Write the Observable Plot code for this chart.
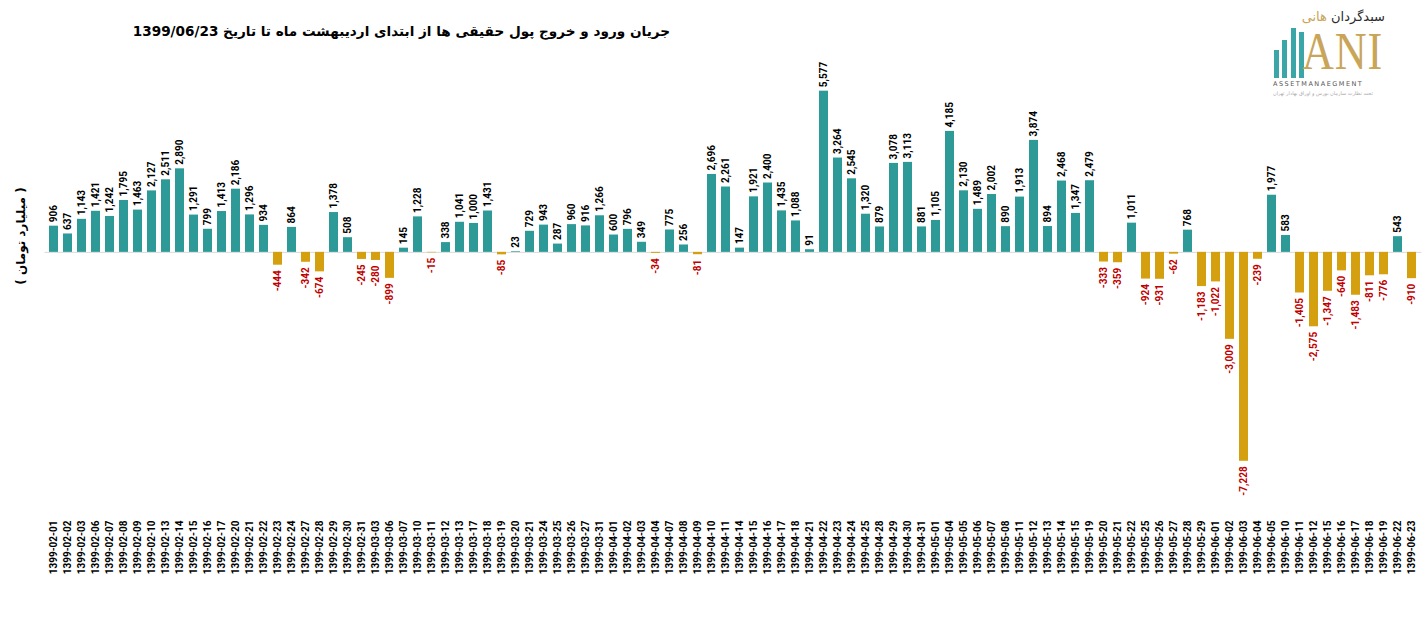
<!DOCTYPE html>
<html>
<head>
<meta charset="utf-8">
<script src="https://cdn.jsdelivr.net/npm/d3@7"></script>
<script src="https://cdn.jsdelivr.net/npm/@observablehq/plot@0.6"></script>
<style>
  html, body { margin: 0; padding: 0; background: #fff; }
  #wrap { position: relative; width: 1425px; height: 619px; overflow: hidden; font-family: Roboto, "Open Sans", sans-serif; }
  #chart { position: absolute; left: 0; top: 0; }
  #title { position: absolute; right: 755px; top: 23px; direction: rtl; white-space: nowrap;
           font-family: "DejaVu Sans", "Noto Sans", sans-serif; font-weight: bold; font-size: 13.6px; color: #000; }
  #ylabel { position: absolute; left: 21px; top: 236px; transform: translate(-50%, -50%) rotate(-90deg);
            direction: rtl; white-space: nowrap; font-family: "DejaVu Sans", sans-serif; font-weight: bold; font-size: 12px; }
  #logo { position: absolute; left: 1268px; top: 8px; width: 125px; height: 96px; }
  .lb { position: absolute; background: #3aa6a8; top: auto; width: 5px; }
  #ani { position: absolute; left: 34px; top: 22px; font-family: "Liberation Serif", "DejaVu Serif", serif; font-size: 52px; line-height: 44px;
         color: #c9a55a; letter-spacing: 1px; transform: scaleX(0.85); transform-origin: left top; }
  #lfa { position: absolute; right: 8px; top: 1px; font-family: "DejaVu Sans", sans-serif; font-size: 13px; line-height: 15px; color: #2b2b2b; direction: rtl; white-space: nowrap; }
  #lfa span { color: #c9a55a; }
  #asset { position: absolute; left: 5px; top: 73px; font-family: "DejaVu Sans", sans-serif; font-size: 6.5px; line-height: 7px; color: #555; letter-spacing: 1.5px; white-space: nowrap; }
  #lsub { position: absolute; left: 5px; top: 82px; font-family: "DejaVu Sans", sans-serif; font-size: 5px; line-height: 6px; color: #aaa; direction: rtl; white-space: nowrap; }
</style>
</head>
<body>
<div id="wrap">
  <div id="chart"></div>
  <div id="title">جریان ورود و خروج پول حقیقی ها از ابتدای اردیبهشت ماه تا تاریخ 1399/06/23</div>
  <div id="ylabel">( میلیارد تومان )</div>
  <div id="logo">
    <div class="lb" style="left:6px;top:42px;height:28px;"></div>
    <div class="lb" style="left:14px;top:32px;height:38px;"></div>
    <div class="lb" style="left:23px;top:20px;height:50px;"></div>
    <div class="lb" style="left:31px;top:24px;height:46px;"></div>
    <div id="lfa">سبدگردان <span>هانی</span></div>
    <div id="ani">ANI</div>
    <div id="asset">ASSETMANAEGMENT</div>
    <div id="lsub">تحت نظارت سازمان بورس و اوراق بهادار تهران</div>
  </div>
</div>
<script>
const dates = [
  "1399-02-01","1399-02-02","1399-02-03","1399-02-06","1399-02-07","1399-02-08","1399-02-09","1399-02-10",
  "1399-02-13","1399-02-14","1399-02-15","1399-02-16","1399-02-17","1399-02-20","1399-02-21","1399-02-22",
  "1399-02-23","1399-02-24","1399-02-27","1399-02-28","1399-02-29","1399-02-30","1399-02-31","1399-03-03",
  "1399-03-06","1399-03-07","1399-03-10","1399-03-11","1399-03-12","1399-03-13","1399-03-17","1399-03-18",
  "1399-03-19","1399-03-20","1399-03-21","1399-03-24","1399-03-25","1399-03-26","1399-03-27","1399-03-31",
  "1399-04-01","1399-04-02","1399-04-03","1399-04-04","1399-04-07","1399-04-08","1399-04-09","1399-04-10",
  "1399-04-11","1399-04-14","1399-04-15","1399-04-16","1399-04-17","1399-04-18","1399-04-21","1399-04-22",
  "1399-04-23","1399-04-24","1399-04-25","1399-04-28","1399-04-29","1399-04-30","1399-04-31","1399-05-01",
  "1399-05-04","1399-05-05","1399-05-06","1399-05-07","1399-05-08","1399-05-11","1399-05-12","1399-05-13",
  "1399-05-14","1399-05-15","1399-05-19","1399-05-20","1399-05-21","1399-05-22","1399-05-25","1399-05-26",
  "1399-05-27","1399-05-28","1399-05-29","1399-06-01","1399-06-02","1399-06-03","1399-06-04","1399-06-05",
  "1399-06-10","1399-06-11","1399-06-12","1399-06-15","1399-06-16","1399-06-17","1399-06-18","1399-06-19",
  "1399-06-22","1399-06-23"
];
const values = [
  906, 637, 1143, 1421, 1242, 1795, 1463, 2127,
  2511, 2890, 1291, 799, 1413, 2186, 1296, 934,
  -444, 864, -342, -674, 1378, 508, -245, -280,
  -899, 145, 1228, -15, 338, 1041, 1000, 1431,
  -85, 23, 729, 943, 287, 960, 916, 1266,
  600, 796, 349, -34, 775, 256, -81, 2696,
  2261, 147, 1921, 2400, 1435, 1088, 91, 5577,
  3264, 2545, 1320, 879, 3078, 3113, 881, 1105,
  4185, 2130, 1489, 2002, 890, 1913, 3874, 894,
  2468, 1347, 2479, -333, -359, 1011, -924, -931,
  -62, 768, -1183, -1022, -3009, -7228, -239, 1977,
  583, -1405, -2575, -1347, -640, -1483, -811, -776,
  543, -910
];
const colors = { inflow: "#2e9a98", outflow: "#d4a00f", negLabel: "#c00000" };

const data = dates.map((d, i) => ({ date: d, value: values[i] }));
const pos = data.filter(d => d.value >= 0);
const neg = data.filter(d => d.value < 0);
const fmt = v => (v < 0 ? "-" : "") + d3.format(",")(Math.abs(v));

const chart = Plot.plot({
  width: 1425,
  height: 619,
  marginLeft: 44.5,
  marginRight: 3.6,
  marginTop: 64,
  marginBottom: 107,
  style: { fontFamily: "Roboto, 'Open Sans', sans-serif", fontWeight: "bold", background: "transparent" },
  x: { type: "band", domain: dates, padding: 0.35, axis: null },
  y: { domain: [-9000, 6500], axis: null },
  marks: [
    Plot.ruleY([0], { stroke: "#d9d9d9", strokeWidth: 1 }),
    Plot.barY(pos, { x: "date", y: "value", fill: colors.inflow }),
    Plot.barY(neg, { x: "date", y: "value", fill: colors.outflow }),
    Plot.text(pos, { x: "date", y: "value", text: d => fmt(d.value), rotate: -90, textAnchor: "start", dy: -4, fill: "#000", fontSize: 10, fontWeight: "bold" }),
    Plot.text(neg, { x: "date", y: "value", text: d => fmt(d.value), rotate: -90, textAnchor: "end", dy: 5, fill: colors.negLabel, fontSize: 10, fontWeight: "bold" }),
    Plot.axisX({ tickSize: 0, tickRotate: -90, tickPadding: 8, fontSize: 10, fontWeight: "bold", fill: "#000", label: null })
  ]
});
document.getElementById("chart").appendChild(chart);
</script>
</body>
</html>
